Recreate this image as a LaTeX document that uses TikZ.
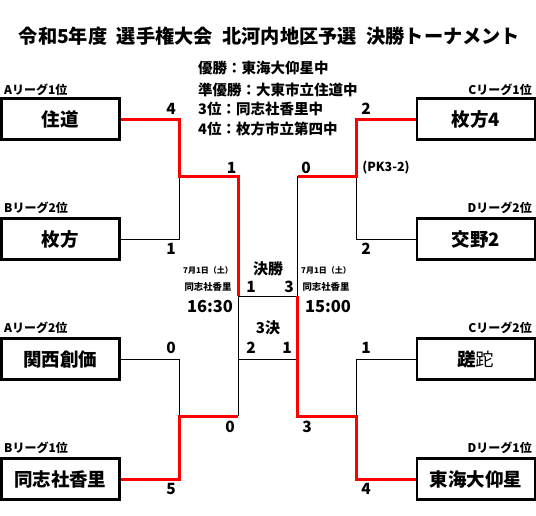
\documentclass[tikz,border=0pt]{standalone}
\usepackage{fontspec}
\setmainfont{Noto Sans CJK JP}

\begin{document}
\begin{tikzpicture}[x=1pt,y=-1pt]
        \tikzset{team/.style={draw, line width=2.5pt, minimum width=118pt, minimum height=41pt, inner sep=0pt,
                     font=\fontsize{18.5}{20}\selectfont\bfseries},
                 league/.style={inner sep=0pt, font=\fontsize{12}{13}\selectfont\bfseries},
                 score/.style={inner sep=0pt, font=\fontsize{15.5}{16}\selectfont\bfseries},
                 info/.style={inner sep=0pt, anchor=west, font=\fontsize{14.5}{16}\selectfont\bfseries},
                 small/.style={inner sep=0pt, font=\fontsize{8}{9}\selectfont\bfseries},
                 round name/.style={inner sep=0pt, font=\fontsize{15}{16}\selectfont\bfseries},
                 win/.style={draw=red, line width=3pt},
                 lose/.style={draw=black, line width=0.8pt}}

        \useasboundingbox (0,0) rectangle (536,515);

        \node[font=\fontsize{19.2}{21}\selectfont\bfseries] (title) at (269.5,36)
            {令和5年度\enspace 選手権大会\enspace 北河内地区予選\enspace 決勝トーナメント};

        \node[info] (gold)   at (198,68)  {優勝：東海大仰星中};
        \node[info] (silver) at (198,89.5) {準優勝：大東市立住道中};
        \node[info] (third)  at (198,109) {3位：同志社香里中};
        \node[info] (fourth) at (198,129) {4位：枚方市立第四中};

        % teams
        \node[team] (sumi)  at (60.25,119) {住道};
        \node[team] (hira)  at (60.25,239) {枚方};
        \node[team] (kan)   at (60.25,359) {関西創価};
        \node[team] (dou)   at (60.25,479) {同志社香里};
        \node[team] (hira4) at (475.75,119) {枚方4};
        \node[team] (kata)  at (475.75,239) {交野2};
        \node[team] (sada)  at (475.75,359) {蹉{\mdseries 跎}};
        \node[team] (tou)   at (475.75,479) {東海大仰星};

        \node[league, anchor=west] (lgA1) at (4,89.5)  {Aリーグ1位};
        \node[league, anchor=west] (lgB2) at (4,208)   {Bリーグ2位};
        \node[league, anchor=west] (lgA2) at (4,328)   {Aリーグ2位};
        \node[league, anchor=west] (lgB1) at (4,448)   {Bリーグ1位};
        \node[league, anchor=east] (lgC1) at (532,89.5) {Cリーグ1位};
        \node[league, anchor=east] (lgD2) at (532,208)  {Dリーグ2位};
        \node[league, anchor=east] (lgC2) at (532,328)  {Cリーグ2位};
        \node[league, anchor=east] (lgD1) at (532,448)  {Dリーグ1位};

        % junctions
        \coordinate (lt)   at (179.5,176);
        \coordinate (lb)   at (179.5,416);
        \coordinate (ltf)  at (238,176);
        \coordinate (lbf)  at (238,416);
        \coordinate (lfin) at (238,296);
        \coordinate (l3)   at (238,359);
        \coordinate (rt)   at (356.6,176);
        \coordinate (rb)   at (356.6,416);
        \coordinate (rtf)  at (297.5,176);
        \coordinate (rbf)  at (297.5,416);
        \coordinate (rfin) at (297.5,296);
        \coordinate (r3)   at (297.5,359);

        \draw[lose] (hira.east) -| (lt);
        \draw[lose] (kan.east) -| (lb);
        \draw[lose] (lbf) -- (lfin) -- (rfin) -- (rtf);
        \draw[lose] (l3) -- (r3);
        \draw[lose] (kata.west) -| (rt);
        \draw[lose] (sada.west) -| (rb);

        \draw[win] (sumi.east) -| (lt) -- (ltf) -- (lfin);
        \draw[win] (dou.east) -| (lb) -- (lbf);
        \draw[win] (hira4.west) -| (rt) -- (rtf);
        \draw[win] (tou.west) -| (rb) -- (rbf) -- (rfin);

        % scores
        \node[score] (sc1) at (171,109) {4};
        \node[score] (sc2) at (171,249) {1};
        \node[score] (sc3) at (171,348) {0};
        \node[score] (sc4) at (171,489) {5};
        \node[score] (sc5) at (366,109) {2};
        \node[score] (sc6) at (366,249) {2};
        \node[score] (sc7) at (366,348) {1};
        \node[score] (sc8) at (366,489) {4};
        \node[score] (sf1) at (231.5,168) {1};
        \node[score] (sf2) at (306,168)   {0};
        \node[score] (sf3) at (230,427)   {0};
        \node[score] (sf4) at (307,427)   {3};
        \node[score] (fn1) at (251,287)   {1};
        \node[score] (fn2) at (289,287)   {3};
        \node[score] (td1) at (251,348)   {2};
        \node[score] (td2) at (287,348)   {1};
        \node[inner sep=0pt, font=\fontsize{12.5}{13}\selectfont\bfseries] (pk) at (386,168) {(PK3-2)};

        \node[round name] (final) at (268,269) {決勝};
        \node[round name] (third place) at (268,328) {3決};

        \node[small] (dateL)  at (208,270) {7月1日（土）};
        \node[small] (dateR)  at (326,270) {7月1日（土）};
        \node[small, font=\fontsize{9.4}{10}\selectfont\bfseries] (placeL) at (208,287) {同志社香里};
        \node[small, font=\fontsize{9.4}{10}\selectfont\bfseries] (placeR) at (326,287) {同志社香里};
        \node[round name, font=\fontsize{16.5}{17}\selectfont\bfseries] (timeL) at (210,307) {16:30};
        \node[round name, font=\fontsize{16.5}{17}\selectfont\bfseries] (timeR) at (328,307) {15:00};
    \end{tikzpicture}
\end{document}
